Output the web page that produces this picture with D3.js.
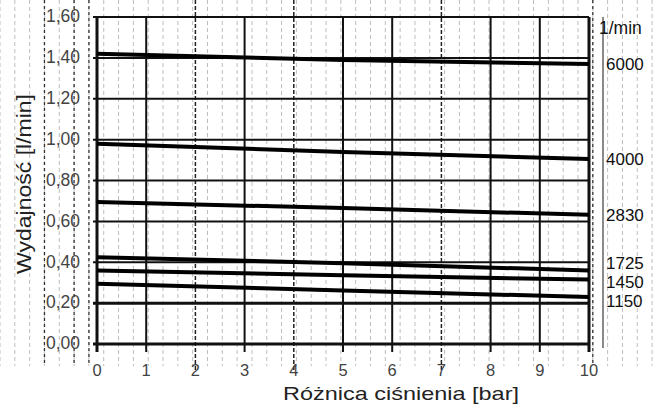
<!DOCTYPE html>
<html>
<head>
<meta charset="utf-8">
<script src="https://cdn.jsdelivr.net/npm/d3@7"></script>
<style>
  html, body { margin: 0; padding: 0; background: #fff; }
  svg { display: block; }
  text { font-family: "Liberation Sans", Arial, sans-serif; }
</style>
</head>
<body>
<svg id="chart" width="656" height="409"></svg>
<script>
// Pressure difference [bar] at which each flow value is read
const pressure = [0, 5, 10];

// Pump speeds [1/min], one curve each
const speeds = ["6000", "4000", "2830", "1725", "1450", "1150"];

// Flow [l/min] per speed
const flow6000 = [1.42, 1.39, 1.37];
const flow4000 = [0.98, 0.94, 0.905];
const flow2830 = [0.695, 0.665, 0.632];
const flow1725 = [0.425, 0.395, 0.36];
const flow1450 = [0.36, 0.337, 0.315];
const flow1150 = [0.295, 0.262, 0.23];

// Axis ticks
const xTicks = [0, 1, 2, 3, 4, 5, 6, 7, 8, 9, 10];
const yTicks = [0, 0.2, 0.4, 0.6, 0.8, 1.0, 1.2, 1.4, 1.6];
const xSolid = [1, 3, 5, 6, 8, 9, 10];
const xDotted = [2, 4, 7];

const curves = [flow6000, flow4000, flow2830, flow1725, flow1450, flow1150].map((v, i) => ({
  speed: speeds[i],
  points: pressure.map((p, j) => ({ p, q: v[j] }))
}));

const svg = d3.select("#chart");

const x = d3.scaleLinear().domain([0, 10]).range([97, 589]);
const y = d3.scaleLinear().domain([0, 1.6]).range([344, 17]);

const pl = d3.formatLocale({ decimal: ",", thousands: " ", grouping: [3], currency: ["", " zł"] });
const fmtY = pl.format(".2f");

// Faint dashed verticals behind everything
const bg = svg.append("g");
bg.selectAll("line.faint")
  .data(d3.range(0, 45).map(k => k * 14.82))
  .join("line")
  .attr("x1", d => d).attr("x2", d => d)
  .attr("y1", 0).attr("y2", 366)
  .attr("stroke", "#bdbdbd").attr("stroke-width", 1)
  .attr("stroke-dasharray", "4,3");
bg.selectAll("line.darkfaint")
  .data([3, 5, 6, 40].map(k => k * 14.82))
  .join("line")
  .attr("x1", d => d).attr("x2", d => d)
  .attr("y1", 0).attr("y2", 366)
  .attr("stroke", "#333").attr("stroke-width", 1.3)
  .attr("stroke-dasharray", "3,3");

// Dotted grid at some pressures, full height
bg.selectAll("line.dot")
  .data(xDotted)
  .join("line")
  .attr("x1", d => x(d)).attr("x2", d => x(d))
  .attr("y1", 0).attr("y2", 372)
  .attr("stroke", "#222").attr("stroke-width", 1.5)
  .attr("stroke-dasharray", "4,2");

// Horizontal grid
const grid = svg.append("g");
grid.selectAll("line.h")
  .data(yTicks)
  .join("line")
  .attr("x1", x(0) - 4).attr("x2", x(10))
  .attr("y1", d => y(d)).attr("y2", d => y(d))
  .attr("stroke", "#111")
  .attr("stroke-width", d => (d < 0.3 ? 3 : 2));

// Solid vertical grid
grid.selectAll("line.v")
  .data(xSolid)
  .join("line")
  .attr("x1", d => x(d)).attr("x2", d => x(d))
  .attr("y1", y(1.6)).attr("y2", y(0) + 8)
  .attr("stroke", "#111")
  .attr("stroke-width", d => (d === 10 ? 3 : 2));

// Left axis line
grid.append("line")
  .attr("x1", x(0)).attr("x2", x(0))
  .attr("y1", y(1.6)).attr("y2", y(0) + 8)
  .attr("stroke", "#111").attr("stroke-width", 3);

// Y tick labels
svg.append("g")
  .selectAll("text")
  .data(yTicks)
  .join("text")
  .attr("x", 80).attr("y", d => y(d) - 1)
  .attr("dy", "0.36em")
  .attr("text-anchor", "end")
  .attr("font-size", 17.5)
  .attr("fill", "#444")
  .text(d => fmtY(d));

// X tick labels
svg.append("g")
  .selectAll("text")
  .data(xTicks)
  .join("text")
  .attr("x", d => x(d)).attr("y", 376)
  .attr("text-anchor", "middle")
  .attr("font-size", 16.5)
  .attr("fill", "#444")
  .text(d => d);

// Axis titles
svg.append("text")
  .attr("transform", `translate(31,184) rotate(-90)`)
  .attr("text-anchor", "middle")
  .attr("font-size", 20)
  .attr("textLength", 180)
  .attr("lengthAdjust", "spacingAndGlyphs")
  .attr("fill", "#222")
  .text("Wydajność  [l/min]");

svg.append("text")
  .attr("x", 401).attr("y", 400)
  .attr("text-anchor", "middle")
  .attr("font-size", 19)
  .attr("textLength", 236)
  .attr("lengthAdjust", "spacingAndGlyphs")
  .attr("fill", "#222")
  .text("Różnica ciśnienia [bar]");

// Flow curves
const line = d3.line().x(d => x(d.p)).y(d => y(d.q));
svg.append("g")
  .selectAll("path")
  .data(curves)
  .join("path")
  .attr("d", d => line(d.points))
  .attr("fill", "none")
  .attr("stroke", "#000")
  .attr("stroke-width", 4);

// Right speed scale
svg.append("line")
  .attr("x1", 603).attr("x2", 603)
  .attr("y1", y(1.6)).attr("y2", y(0) + 4)
  .attr("stroke", "#8a8a8a").attr("stroke-width", 2);

svg.append("text")
  .attr("x", 599).attr("y", 28)
  .attr("dy", "0.36em")
  .attr("font-size", 17.5)
  .attr("fill", "#111")
  .text("1/min");

// Speed labels at curve ends, spread apart where they crowd
const labels = curves.map(c => ({ speed: c.speed, ly: y(c.points[c.points.length - 1].q) }));
for (let it = 0; it < 50; it++) {
  for (let i = 1; i < labels.length; i++) {
    const gap = labels[i].ly - labels[i - 1].ly;
    if (gap < 19) {
      const push = (19 - gap) / 2;
      labels[i].ly += push;
      labels[i - 1].ly -= push;
    }
  }
}
svg.append("g")
  .selectAll("text")
  .data(labels)
  .join("text")
  .attr("x", 606).attr("y", d => d.ly)
  .attr("dy", "0.36em")
  .attr("font-size", 17)
  .attr("fill", "#111")
  .text(d => d.speed);
</script>
</body>
</html>
